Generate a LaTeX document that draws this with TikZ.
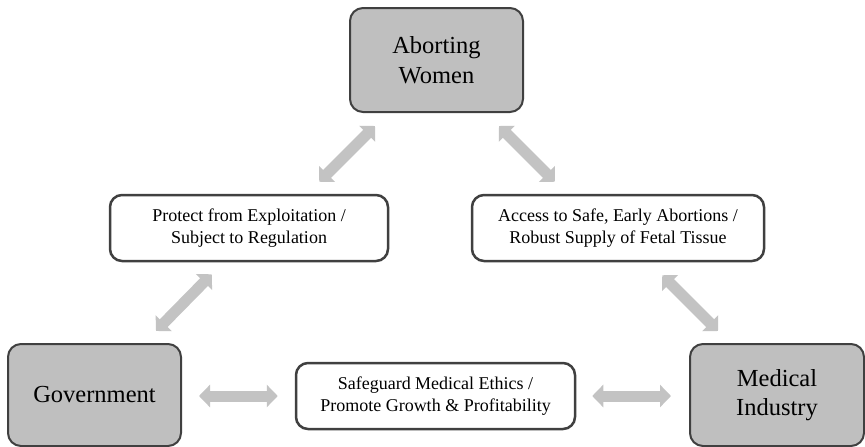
\documentclass[tikz,border=0pt]{standalone}
\usepackage{fontspec}
\setmainfont{Liberation Serif}
\usetikzlibrary{arrows.meta}
\definecolor{boxgray}{HTML}{BFBFBF}
\definecolor{edgegray}{HTML}{404040}
\definecolor{arrowgray}{HTML}{C3C3C3}
\tikzset{
  actor/.style={draw=edgegray, line width=2pt, fill=boxgray, rounded corners=13pt,
    inner sep=0pt, align=center, font=\fontsize{24.5}{29.4}\selectfont},
  relbox/.style={draw=edgegray, line width=2.5pt, fill=white, rounded corners=12pt,
    inner sep=0pt, align=center, minimum height=66pt, font=\fontsize{18}{21.7}\selectfont},
  dbl/.style={draw=arrowgray, line width=11pt,
    {Triangle[width=22pt,length=11pt]}-{Triangle[width=22pt,length=11pt]}}
}
\begin{document}
\begin{tikzpicture}[x=1pt,y=-1pt]
\useasboundingbox (0,0) rectangle (865,447);
\node[actor, minimum width=173pt, minimum height=104pt] (W) at (436.5,60) {Aborting\\Women};
\node[actor, minimum width=173pt, minimum height=102pt] (G) at (94.5,395) {Government};
\node[actor, minimum width=174pt, minimum height=102pt] (M) at (777,395) {Medical\\Industry};
\node[relbox, minimum width=278pt] (P) at (249,228) {Protect from Exploitation /\\Subject to Regulation};
\node[relbox, minimum width=292pt] (A) at (618,228) {Access to Safe, Early Abortions /\\Robust Supply of Fetal Tissue};
\node[relbox, minimum width=279pt] (S) at (435.5,396) {Safeguard Medical Ethics /\\Promote Growth \& Profitability};
\draw[dbl] ([xshift=26pt,yshift=-13pt]W.south west) -- ([xshift=-70pt,yshift=12pt]P.north east);
\draw[dbl] ([xshift=-25pt,yshift=-13pt]W.south east) -- ([xshift=84pt,yshift=12pt]A.north west);
\draw[dbl] ([xshift=103pt,yshift=-12pt]P.south west) -- ([xshift=-26pt,yshift=12pt]G.north east);
\draw[dbl] ([xshift=-103pt,yshift=-13pt]A.south east) -- ([xshift=29pt,yshift=12pt]M.north west);
\draw[dbl, shorten <=17pt, shorten >=17pt] (G.east |- S.west) -- (S.west);
\draw[dbl, shorten <=16pt, shorten >=18pt] (S.east) -- (M.west |- S.east);
\end{tikzpicture}
\end{document}
